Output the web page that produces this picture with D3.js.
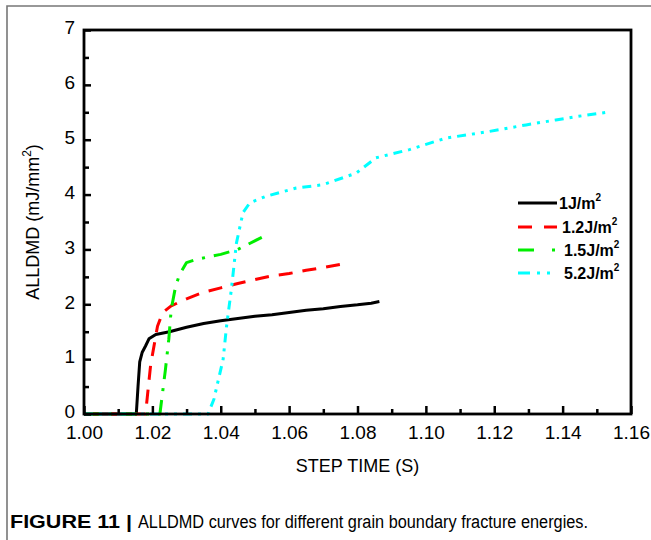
<!DOCTYPE html>
<html><head><meta charset="utf-8">
<script src="https://cdn.jsdelivr.net/npm/d3@7/dist/d3.min.js"></script>
<style>
html,body{margin:0;padding:0;background:#fff;}
svg{display:block;}
text{font-family:"Liberation Sans",Arial,sans-serif;}
</style></head>
<body>
<svg id="c" width="651" height="540"></svg>
<script>
// ---- data ----
const xTicks = [1.00,1.02,1.04,1.06,1.08,1.10,1.12,1.14,1.16];
const yTicks = [0,1,2,3,4,5,6,7];
const seriesNames = ["1J/m", "1.2J/m", "1.5J/m", "5.2J/m"];
const seriesColors = ["#000000", "#ff0000", "#00ee00", "#00ffff"];
const s1 = [[1.000,0],[1.0153,0],[1.0158,0.5],[1.0163,0.95],[1.0170,1.12],[1.0180,1.24],[1.0190,1.37],[1.0210,1.45],[1.0250,1.50],[1.0300,1.58],[1.0350,1.65],[1.0400,1.70],[1.0450,1.74],[1.0500,1.78],[1.0550,1.81],[1.0600,1.85],[1.0650,1.89],[1.0700,1.92],[1.0750,1.96],[1.0800,1.99],[1.0840,2.02],[1.0864,2.05]];
const s2 = [[1.000,0],[1.0180,0],[1.0185,0.3],[1.0195,0.9],[1.0215,1.6],[1.0230,1.85],[1.0255,1.97],[1.030,2.1],[1.035,2.22],[1.040,2.3],[1.045,2.38],[1.050,2.45],[1.055,2.52],[1.060,2.56],[1.065,2.62],[1.070,2.67],[1.0753,2.73]];
const s3 = [[1.000,0],[1.0222,0],[1.0228,0.3],[1.0238,0.8],[1.0248,1.36],[1.0255,1.9],[1.0268,2.33],[1.0280,2.55],[1.0300,2.76],[1.0330,2.82],[1.040,2.91],[1.045,3.0],[1.052,3.22]];
const s4 = [[1.000,0],[1.0363,0],[1.0380,0.27],[1.0407,1.0],[1.0417,1.6],[1.0431,2.27],[1.0446,3.12],[1.0465,3.67],[1.0485,3.85],[1.0533,3.97],[1.0621,4.12],[1.0699,4.18],[1.0796,4.39],[1.0854,4.67],[1.0952,4.82],[1.1059,5.03],[1.1185,5.15],[1.1293,5.27],[1.1380,5.36],[1.1438,5.42],[1.1531,5.50]];
const seriesData = [s1, s2, s3, s4];
const dashes = ["none", "14,10", "16,9,3,9", "9,6,3,6,3,6"];

// ---- layout ----
const svg = d3.select("#c");
const L = 84, R = 631, T = 30, B = 414;
const x = d3.scaleLinear().domain([1.00, 1.16]).range([L, R]);
const y = d3.scaleLinear().domain([0, 7]).range([B, T]);

// figure border (gray)
svg.append("path").attr("d", `M7,540 L7,6 L651,6`).attr("fill","none").attr("stroke","#777").attr("stroke-width",1.6);

// curves
const line = d3.line().x(d => x(d[0])).y(d => y(d[1]));
seriesData.forEach((s, i) => {
  svg.append("path").datum(s).attr("d", line).attr("fill","none")
    .attr("stroke", seriesColors[i]).attr("stroke-width", 3)
    .attr("stroke-dasharray", dashes[i] === "none" ? null : dashes[i])
    .attr("stroke-linejoin","round");
});

// axes
const fmtX = d3.format(".2f");
const gx = svg.append("g").attr("transform", `translate(0,${B})`)
  .call(d3.axisBottom(x).tickValues(xTicks).tickFormat(fmtX).tickSizeInner(-8).tickSizeOuter(0).tickPadding(14));
const gxm = svg.append("g").attr("transform", `translate(0,${B})`)
  .call(d3.axisBottom(x).tickValues(d3.range(1.01, 1.16, 0.02)).tickFormat("").tickSizeInner(-5).tickSizeOuter(0));
const gy = svg.append("g").attr("transform", `translate(${L},0)`)
  .call(d3.axisLeft(y).tickValues(yTicks).tickFormat(d3.format("d")).tickSizeInner(-7).tickSizeOuter(0).tickPadding(9));
const gym = svg.append("g").attr("transform", `translate(${L},0)`)
  .call(d3.axisLeft(y).tickValues(d3.range(0.5, 7, 1)).tickFormat("").tickSizeInner(-5).tickSizeOuter(0));
[gx, gxm, gy, gym].forEach(g => {
  g.select(".domain").remove();
  g.selectAll(".tick line").attr("stroke","#000").attr("stroke-width",2.5);
  g.selectAll("text").attr("fill","#000").style("font-size","19px").style("font-family",'"Liberation Sans",Arial,sans-serif');
});
gx.selectAll("text").attr("dy","0.6em");
gy.selectAll("text").attr("dy","0.2em");

// frame
svg.append("rect").attr("x",L).attr("y",T).attr("width",R-L).attr("height",B-T)
  .attr("fill","none").attr("stroke","#000").attr("stroke-width",2.8);

// axis titles
svg.append("text").attr("x", (L+R)/2).attr("y", 472).attr("text-anchor","middle")
  .style("font-size","18px").text("STEP TIME (S)");
const yt = svg.append("text").attr("transform", `translate(39,${(T+B)/2}) rotate(-90)`)
  .attr("text-anchor","middle").style("font-size","18px");
yt.append("tspan").text("ALLDMD (mJ/mm");
yt.append("tspan").attr("dy",-8).style("font-size","12px").text("2");
yt.append("tspan").attr("dy",8).text(")");

// legend
const legY = [203, 227, 250, 273];
seriesNames.forEach((n, i) => {
  svg.append("line").attr("x1",518).attr("x2",557).attr("y1",legY[i]).attr("y2",legY[i])
    .attr("stroke", seriesColors[i]).attr("stroke-width",3)
    .attr("stroke-dasharray", dashes[i] === "none" ? null : (i===1 ? "14,12" : i===2 ? "16,18,3,20" : "12,7,3,7,3,20"));
  const t = svg.append("text").attr("x", i===0 ? 559 : i===1 ? 562 : 564).attr("y", legY[i]+6)
    .style("font-size","16px").style("font-weight","bold");
  t.append("tspan").text(n);
  t.append("tspan").attr("dy",-8).style("font-size","10px").text("2");
});

// caption
const cap = svg.append("text").attr("y",528).style("font-size","18px");
cap.append("tspan").attr("x",10).style("font-weight","bold").attr("textLength",122).attr("lengthAdjust","spacingAndGlyphs").text("FIGURE 11 |");
cap.append("tspan").attr("x",138).attr("textLength",450).attr("lengthAdjust","spacingAndGlyphs").text("ALLDMD curves for different grain boundary fracture energies.");
</script>
</body></html>
